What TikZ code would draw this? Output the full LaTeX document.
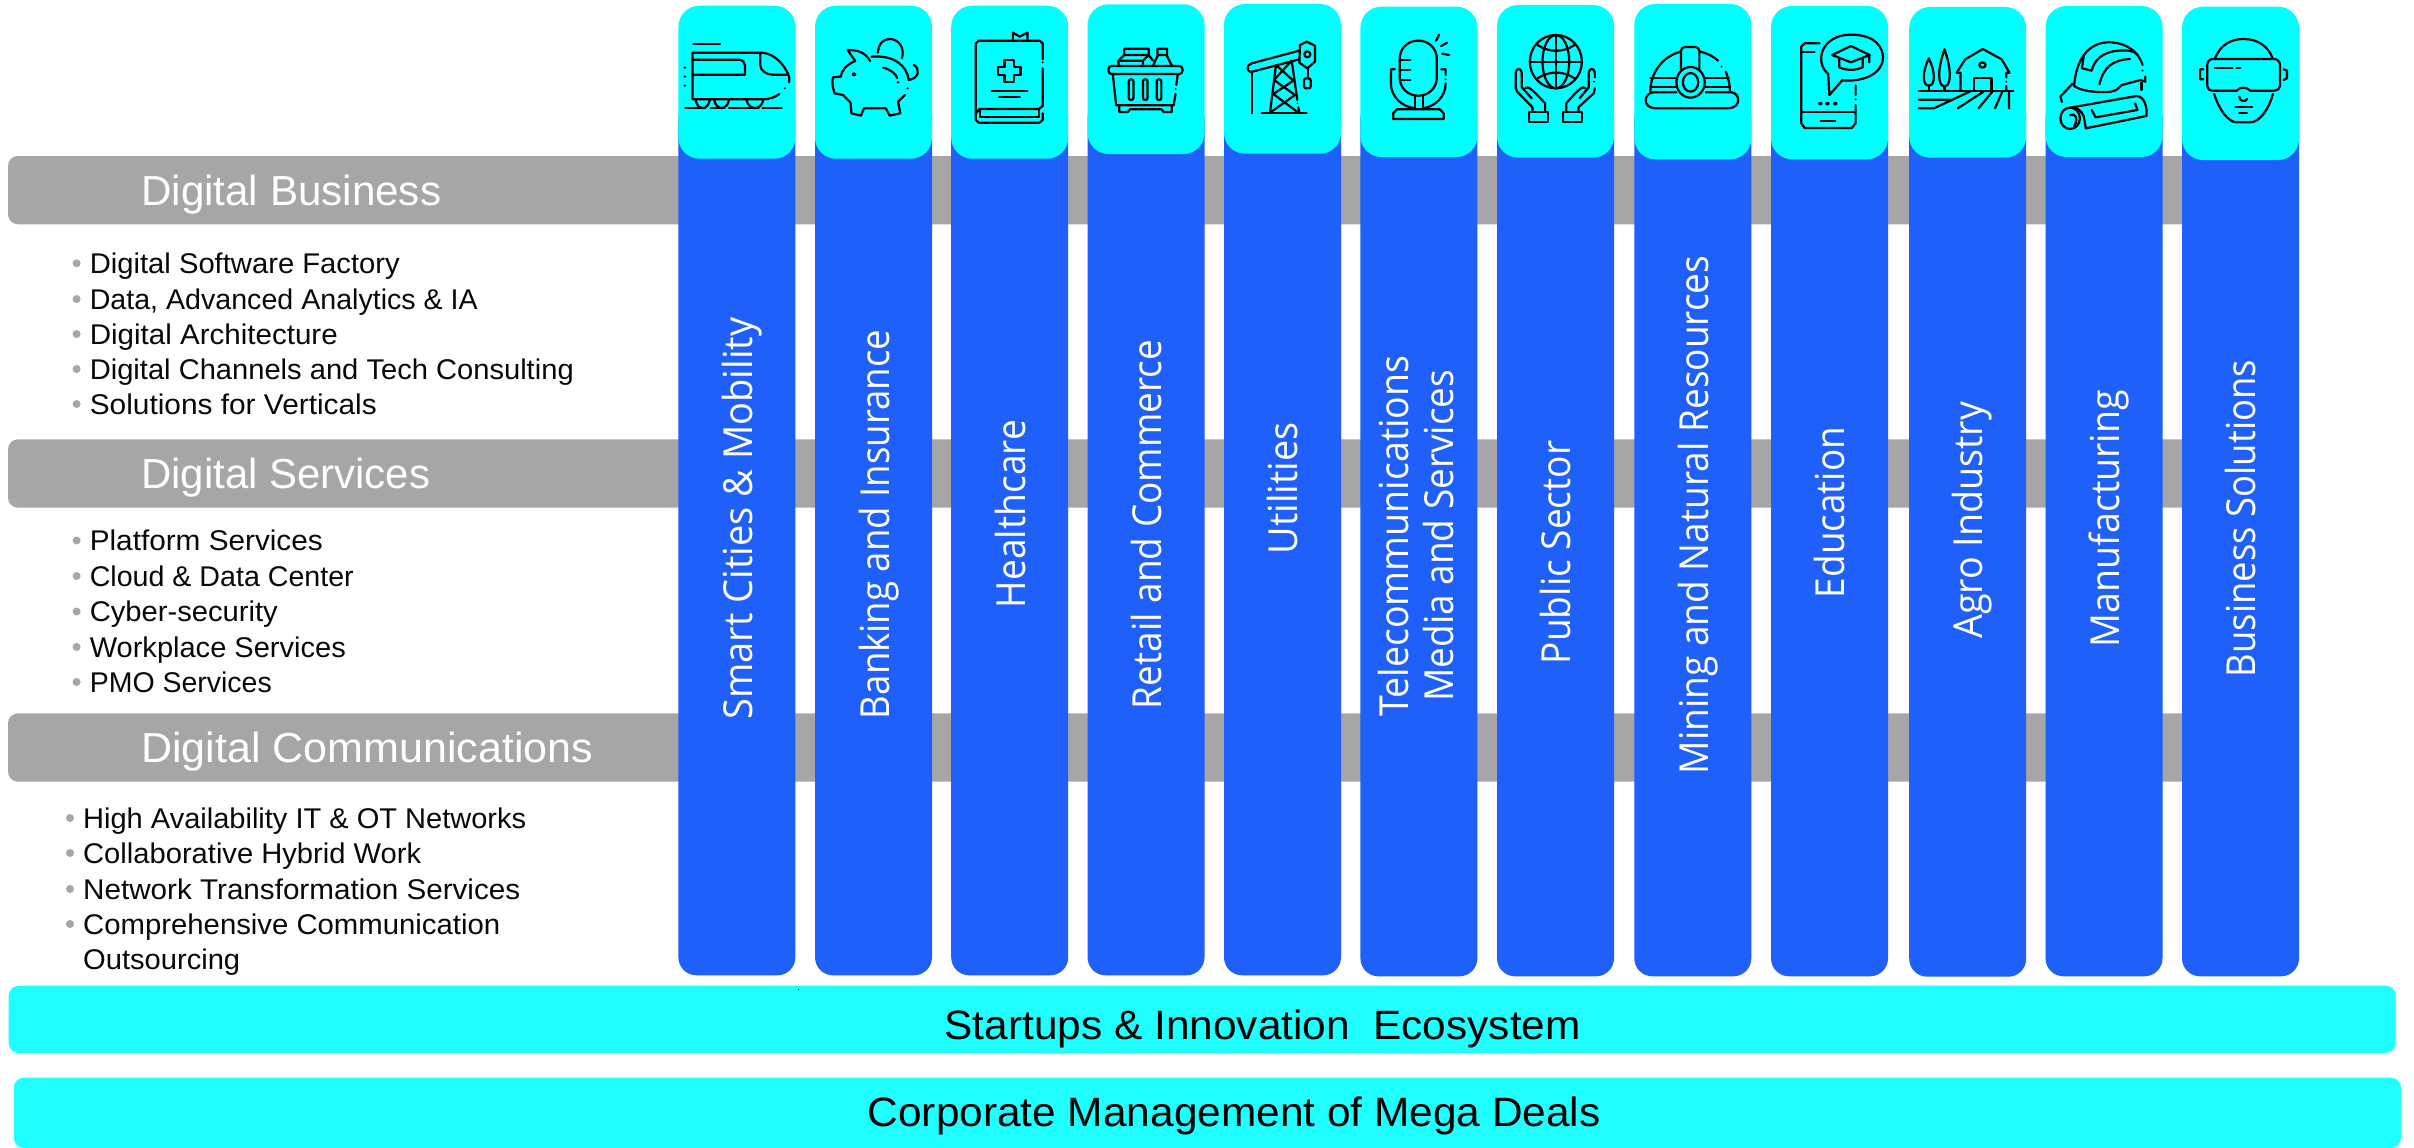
\documentclass[tikz,border=0pt]{standalone}
\usepackage{fontspec}
\usepackage{graphicx}
\setmainfont{Liberation Sans}
\newfontfamily\colfont{Open Sans}
\definecolor{cblue}{HTML}{1F5FFA}
\definecolor{ccyan}{HTML}{00FFFF}
\definecolor{cbar}{HTML}{1FFFFF}
\definecolor{cgray}{HTML}{A6A6A6}
\newcommand\fw[2]{\resizebox{#1pt}{\height}{#2}}
\tikzset{
  box/.style={inner sep=0pt,outer sep=0pt,anchor=north west,draw=none},
  blueband/.style={box,fill=cblue,rounded corners=18pt},
  capband/.style={box,fill=ccyan,rounded corners=21pt},
  grayband/.style={box,fill=cgray,rounded corners=10pt},
  cyanband/.style={box,fill=cbar,rounded corners=10pt},
  collabel/.style={inner sep=0pt,rotate=90,anchor=base,text=white,font=\colfont\fontsize{40}{40}\selectfont},
  heading/.style={inner sep=0pt,anchor=base west,text=white,font=\fontsize{42}{42}\selectfont},
  listitem/.style={inner sep=0pt,anchor=base west,text=black!97,font=\fontsize{28.5}{28.5}\selectfont},
  bulletdot/.style={circle,fill=cgray,inner sep=0pt,minimum size=8pt},
  bottomtext/.style={inner sep=0pt,anchor=base west,text=black,font=\fontsize{41}{41}\selectfont},
  ico/.style={line width=2.2pt,line cap=round,line join=round,draw=black},
  za/.style={shift={(660,0)},x=0.3827pt,y=-0.3333pt},
  zb/.style={shift={(1260,0)},x=0.3827pt,y=-0.3333pt},
  zc/.style={shift={(1800,0)},x=0.3915pt,y=-0.3333pt},
  zd/.style={shift={(1240,20)},x=0.3333pt,y=-0.3333pt},
}
% name, x left, cap top, cap bottom, band bottom
\newcommand\bandcol[5]{%
  \pgfmathsetmacro\hb{#5-100}%
  \pgfmathsetmacro\hc{#4-#3}%
  \node[blueband,minimum width=117pt,minimum height=\hb pt] (b#1) at (#2,100) {};
  \node[capband,minimum width=117pt,minimum height=\hc pt] (c#1) at (#2,#3) {};
}
% name, text x, baseline, width, text
\newcommand\listline[5]{%
  \node[bulletdot] (d#1) at (#2-13,#3-10) {};
  \node[listitem] (t#1) at (#2,#3) {\fw{#4}{#5}};
}
\begin{document}
\begin{tikzpicture}[x=1pt,y=-1pt]
\useasboundingbox (0,0) rectangle (2414,1148);
\fill[white] (0,0) rectangle (2414,1148);

% grey bands
\node[grayband,minimum width=2200pt,minimum height=68.3pt] (g1) at (8,156) {};
\node[grayband,minimum width=2200pt,minimum height=68.4pt] (g2) at (8,439.3) {};
\node[grayband,minimum width=2200pt,minimum height=68.4pt] (g3) at (8,713.3) {};
\node[heading] (h1) at (141,205) {\fw{300}{Digital Business}};
\node[heading] (h2) at (141,488) {\fw{289}{Digital Services}};
\node[heading] (h3) at (141,762) {\fw{452}{Digital Communications}};

% columns
\bandcol{1}{678.4}{5.7}{158.7}{975.3}
\bandcol{2}{815}{5.7}{158.7}{975.3}
\bandcol{3}{951.2}{5.7}{158.7}{975.3}
\bandcol{4}{1087.5}{4.3}{154}{975.3}
\bandcol{5}{1224}{4}{153.7}{975.3}
\bandcol{6}{1360.4}{6.7}{157}{976.3}
\bandcol{7}{1497}{5}{157.7}{976.3}
\bandcol{8}{1634.3}{4}{159.3}{976.3}
\bandcol{9}{1771}{6}{159.3}{976.3}
\bandcol{10}{1909.2}{7}{157.7}{976.7}
\bandcol{11}{2045.5}{6}{157}{976.3}
\bandcol{12}{2182}{6.7}{160}{976.3}

% column labels
\node[collabel] (l1) at (752.3,518.5) {\fw{401.7}{Smart Cities \& Mobility}};
\node[collabel] (l2) at (889,524.5) {\fw{389}{Banking and Insurance}};
\node[collabel] (l3) at (1025,514) {\fw{188}{Healthcare}};
\node[collabel] (l4) at (1161,524.5) {\fw{369}{Retail and Commerce}};
\node[collabel] (l5) at (1297,488.5) {\fw{131.7}{Utilities}};
\node[collabel] (l6a) at (1408,536) {\fw{360.8}{Telecommunications}};
\node[collabel] (l6b) at (1453.6,535.8) {\fw{332}{Media and Services}};
\node[collabel] (l7) at (1570,552.5) {\fw{223.4}{Public Sector}};
\node[collabel] (l8) at (1708,515) {\fw{518.6}{Mining and Natural Resources}};
\node[collabel] (l9) at (1844,512.5) {\fw{171}{Education}};
\node[collabel] (l10) at (1982.7,520.2) {\fw{237}{Agro Industry}};
\node[collabel] (l11) at (2119,518.5) {\fw{257}{Manufacturing}};
\node[collabel] (l12) at (2255.7,518.5) {\fw{317}{Business Solutions}};

% lists
\listline{a1}{89.6}{273.3}{310}{Digital Software Factory}
\listline{a2}{89.6}{309}{388}{Data, Advanced Analytics \& IA}
\listline{a3}{89.6}{344}{248}{Digital Architecture}
\listline{a4}{89.6}{379}{484}{Digital Channels and Tech Consulting}
\listline{a5}{89.6}{414}{287}{Solutions for Verticals}
\listline{b1}{89.6}{550.5}{233}{Platform Services}
\listline{b2}{89.6}{586}{264}{Cloud \& Data Center}
\listline{b3}{89.6}{621.5}{188}{Cyber-security}
\listline{b4}{89.6}{657}{256}{Workplace Services}
\listline{b5}{89.6}{692}{182}{PMO Services}
\listline{c1}{83}{828}{443}{High Availability IT \& OT Networks}
\listline{c2}{83}{863}{338}{Collaborative Hybrid Work}
\listline{c3}{83}{899}{437}{Network Transformation Services}
\listline{c4}{83}{934}{417}{Comprehensive Communication}
\node[listitem] (tc5) at (83,969.3) {\fw{157}{Outsourcing}};

% bottom bands
\node[cyanband,minimum width=2387pt,minimum height=67.3pt] (s1) at (8.7,985.7) {};
\node[cyanband,minimum width=2387.2pt,minimum height=70.3pt] (s2) at (13.8,1077.7) {};
\node[bottomtext] (st1) at (944.5,1039) {\fw{636}{Startups \& Innovation\ \ Ecosystem}};
\node[bottomtext] (st2) at (867.5,1126.7) {\fw{733}{Corporate Management of Mega Deals}};
\fill[black] (797.5,988.5) rectangle (798.7,989.7);

% ---- icons ----
% train
\begin{scope}[za,ico]
\draw (87,133)--(157,133);
\draw (337,247) .. controls (340,235) and (336,222) .. (330,212) .. controls (315,180) and (290,158) .. (262,158) -- (85,158) -- (85,298) -- (270,298) .. controls (285,298) and (300,292) .. (312,282);
\draw (85,179)--(205,179) .. controls (216,179) and (222,187) .. (222,196) -- (222,224) -- (85,224);
\draw (262,158)--(262,195) .. controls (262,212) and (278,224) .. (295,224) -- (335,224);
\draw (93,300) .. controls (97,332) and (126,332) .. (130,300);
\draw (142,300) .. controls (146,332) and (176,332) .. (180,300);
\draw (226,300) .. controls (232,332) and (264,332) .. (270,300);
\draw (66,325)--(118,325) (133,325)--(168,325) (180,325)--(258,325) (268,325)--(318,325);
\fill (65,203) circle (4) (65,230) circle (4) (65,257) circle (4) (326,265) circle (3);
\end{scope}
% piggy bank
\begin{scope}[za,ico]
\draw (569,158) .. controls (572,128) and (585,117) .. (600,117) .. controls (625,117) and (640,145) .. (632,175);
\draw (549,183) .. controls (535,155) and (515,150) .. (490,150) -- (510,183) .. controls (485,195) and (475,212) .. (472,230) -- (452,232) .. controls (448,245) and (452,265) .. (456,280) -- (478,285) -- (498,308) -- (500,340) -- (525,347) -- (533,325) -- (590,325) -- (600,347) -- (628,340) -- (622,305) -- (640,285);
\draw (553,170) .. controls (610,165) and (645,195) .. (650,240) .. controls (678,235) and (680,205) .. (663,195);
\draw (583,203) .. controls (603,208) and (616,222) .. (620,234);
\fill (507,223) circle (6) (622,247) circle (4) (647,265) circle (3.5);
\end{scope}
% book
\begin{scope}[za,ico]
\draw (1000,178) -- (1000,130) -- (992,122) -- (833,122) -- (825,130) -- (825,360) -- (833,368) -- (992,368) -- (1000,360) -- (1000,340);
\draw (1000,205) -- (1000,318) -- (990,327) -- (835,327) -- (825,340);
\draw (836,330) -- (836,350) -- (990,350) -- (990,330);
\draw (922,120) -- (922,98) -- (940,110) -- (960,98) -- (960,120);
\draw (900,180) -- (926,180) -- (926,200) -- (942,200) -- (942,226) -- (926,226) -- (926,245) -- (900,245) -- (900,226) -- (884,226) -- (884,200) -- (900,200) -- cycle;
\draw (866,273)--(960,273) (886,292)--(940,292);
\fill (1000,187) circle (3);
\end{scope}
% basket
\begin{scope}[za,ico]
\draw[rounded corners=3pt] (1172,198) rectangle (1365,222);
\draw (1183,222) -- (1192,316) -- (1342,316) -- (1347,282) (1349,255) -- (1353,222);
\draw[rounded corners=2pt] (1225,238) rectangle (1237,300) (1262,238) rectangle (1274,300) (1298,238) rectangle (1310,300);
\draw (1200,316) -- (1200,336) -- (1222,336) -- (1228,328) -- (1310,328) -- (1316,336) -- (1337,336) -- (1337,316);
\draw (1198,198) -- (1198,182) -- (1213,165) -- (1213,146) -- (1277,146) -- (1277,165) -- (1262,182) -- (1262,198);
\draw (1198,182) -- (1262,182) (1213,165) -- (1277,165) (1277,165) -- (1288,182);
\draw (1288,198) -- (1300,168) -- (1300,146) -- (1325,146) -- (1325,168) -- (1338,198) (1300,165) -- (1325,165);
\fill (1347,267) circle (3);
\end{scope}
% pumpjack
\begin{scope}[zd,ico]
\draw (37,155)--(37,280);
\draw (178,92) -- (35,130) .. controls (18,135) and (18,158) .. (37,155) -- (178,118);
\draw (180,75) -- (200,65) -- (225,77) -- (225,125) -- (202,145) -- (178,128) -- cycle;
\draw (202,103) circle (9);
\draw (203,145) -- (203,175);
\draw[rounded corners=2pt] (192,175) rectangle (212,205);
\draw (108,135) -- (90,278) (155,122) -- (172,240) (175,262) -- (178,278);
\draw (108,135) -- (160,182) -- (100,222) -- (175,278) (155,122) -- (102,180) -- (165,225) -- (90,278);
\draw (65,278) -- (200,278);
\fill (172,250) circle (2.5);
\end{scope}
% microphone
\begin{scope}[zb,ico]
\draw[rounded corners=18pt] (365,122) rectangle (462,287);
\draw (365,180)--(393,180) (365,210)--(393,210) (365,240)--(393,240);
\draw (352,208) -- (342,208) -- (342,250) .. controls (342,290) and (370,320) .. (405,325);
\draw (473,208) -- (485,208) -- (485,225) (485,250) .. controls (485,290) and (458,320) .. (425,325);
\draw (405,287)--(405,328) (425,287)--(425,328);
\draw (348,357) -- (480,357) -- (480,340) -- (470,328) -- (358,328) -- (348,340) -- cycle;
\draw (460,122)--(468,104) (473,138)--(489,128) (476,161)--(494,165);
\fill (485,238) circle (3);
\end{scope}
% globe in hands
\begin{scope}[zb,ico]
\draw (773,185) circle [x radius=68,y radius=80];
\draw (773,185) circle [x radius=35,y radius=80];
\draw (773,105)--(773,265) (705,185)--(841,185);
\draw (725,135) .. controls (755,158) and (792,158) .. (822,135);
\draw (725,235) .. controls (755,212) and (792,212) .. (822,235);
\draw (703,335) rectangle (753,367) (791,335) rectangle (841,367);
\draw (712,335) -- (712,322) -- (672,275) -- (668,265) -- (668,218) .. controls (670,203) and (682,203) .. (684,218) -- (684,262) -- (710,295);
\draw (693,265) .. controls (700,258) and (706,262) .. (745,310) -- (745,335);
\draw (832,335) -- (832,322) -- (872,280) -- (875,265) (875,232) -- (875,218) .. controls (873,203) and (861,203) .. (859,218) -- (859,262) -- (835,295);
\draw (850,265) .. controls (843,258) and (837,262) .. (800,310) -- (800,335);
\fill (873,245) circle (3);
\end{scope}
% helmet
\begin{scope}[zb,ico]
\draw (1020,275) .. controls (1020,210) and (1060,165) .. (1100,155);
\draw[rounded corners=4pt] (1100,210) -- (1100,141) -- (1148,141) -- (1148,210);
\draw (1150,155) .. controls (1170,160) and (1185,170) .. (1197,182) (1217,215) .. controls (1224,235) and (1228,255) .. (1228,275);
\draw (1125,247) circle [x radius=37,y radius=46];
\draw (1125,247) circle [x radius=20,y radius=28];
\draw (1020,235)--(1090,235) (1020,262)--(1088,262) (1163,235)--(1225,235) (1163,262)--(1228,262);
\draw (1027,277) .. controls (1003,280) and (998,322) .. (1032,325) -- (1225,325) .. controls (1258,322) and (1255,280) .. (1232,277) -- (1165,277) (1088,277) -- (1027,277);
\fill (1206,200) circle (3);
\end{scope}
% phone + speech bubble
\begin{scope}[zc,ico]
\draw (50,130) -- (12,130) -- (3,140) -- (3,370) -- (12,384) -- (132,384) -- (142,370) -- (142,315) (142,256) -- (142,285);
\draw (3,157)--(37,157) (3,337)--(142,337) (53,362)--(90,362);
\draw (75,285) -- (72,222) .. controls (35,185) and (55,104) .. (130,104) .. controls (195,104) and (212,145) .. (212,173) .. controls (212,215) and (170,247) .. (108,241) -- cycle;
\draw (52,311) circle (3) (70,311) circle (3) (90,311) circle (3);
\draw (82,165) -- (130,138) -- (178,165) -- (130,187) -- cycle;
\draw (100,175) -- (100,202) .. controls (120,212) and (140,212) .. (160,202) -- (160,177) (177,165) -- (177,187);
\fill (142,298) circle (3);
\end{scope}
% farm
\begin{scope}[zc,ico]
\draw (303,272)--(545,272);
\draw (329,272)--(329,257) (369,272)--(369,259);
\draw (329,175) .. controls (312,215) and (312,257) .. (329,257) .. controls (346,257) and (346,215) .. (329,175) -- cycle;
\draw (369,148) .. controls (350,210) and (352,259) .. (369,259) .. controls (386,259) and (388,210) .. (369,148) -- cycle;
\draw (410,272) -- (410,218) -- (400,218) -- (422,178) -- (467,147) -- (515,178) -- (535,218) -- (527,218) -- (527,232) (527,258) -- (527,272);
\draw (466,195) circle (8);
\draw (445,272) -- (445,235) -- (489,235) -- (489,272);
\draw (303,299)--(392,299) (303,325)--(342,325)--(435,274) (403,325)--(470,274) (456,325)--(492,274) (498,325)--(517,274) (534,325)--(534,274);
\fill (527,245) circle (3);
\end{scope}
% hard hat and plans
\begin{scope}[zc,ico]
\draw (875,195) .. controls (860,140) and (815,125) .. (785,127) .. controls (735,130) and (705,180) .. (700,258) .. controls (720,277) and (790,282) .. (808,270) -- (822,255) -- (870,240) -- (882,245) -- (882,230);
\draw (872,248)--(872,270);
\draw (725,165) -- (720,205) -- (745,212) .. controls (755,165) and (790,148) .. (840,152) .. controls (855,156) and (860,160) .. (862,165);
\draw (765,253) .. controls (775,200) and (800,180) .. (843,177);
\draw (697,250) -- (665,290) -- (669,306);
\draw (690,355) circle [x radius=25,y radius=32];
\draw (690,323) -- (860,288) .. controls (880,290) and (887,320) .. (885,348) -- (730,385) -- (725,350) .. controls (720,330) and (703,320) .. (690,323);
\draw (690,345) .. controls (703,338) and (712,355) .. (700,380);
\draw (745,330) -- (755,352) -- (862,330) -- (856,310);
\fill (875,212) circle (3);
\end{scope}
% VR headset
\begin{scope}[zc,ico]
\draw (1060,175) .. controls (1075,130) and (1105,117) .. (1133,117) .. controls (1165,117) and (1195,135) .. (1207,175);
\draw (1055,177) -- (1210,177) .. controls (1220,177) and (1226,185) .. (1226,195) -- (1226,258) .. controls (1226,266) and (1220,272) .. (1212,272) -- (1150,272) .. controls (1140,260) and (1125,260) .. (1115,272) -- (1055,272) .. controls (1046,272) and (1040,266) .. (1040,258) -- (1040,195) .. controls (1040,185) and (1046,177) .. (1055,177) -- cycle;
\draw (1030,208) -- (1022,208) -- (1022,238) -- (1030,238) (1235,208) -- (1244,212) -- (1244,235) -- (1235,240);
\draw (1060,203)--(1105,203) (1115,203)--(1125,203);
\draw (1058,282) .. controls (1070,330) and (1095,367) .. (1115,367) -- (1150,367) .. controls (1175,367) and (1198,325) .. (1208,282);
\draw (1122,290) .. controls (1122,306) and (1140,306) .. (1142,297);
\draw (1112,322)--(1155,322) (1122,338)--(1142,338);
\end{scope}
\end{tikzpicture}
\end{document}
